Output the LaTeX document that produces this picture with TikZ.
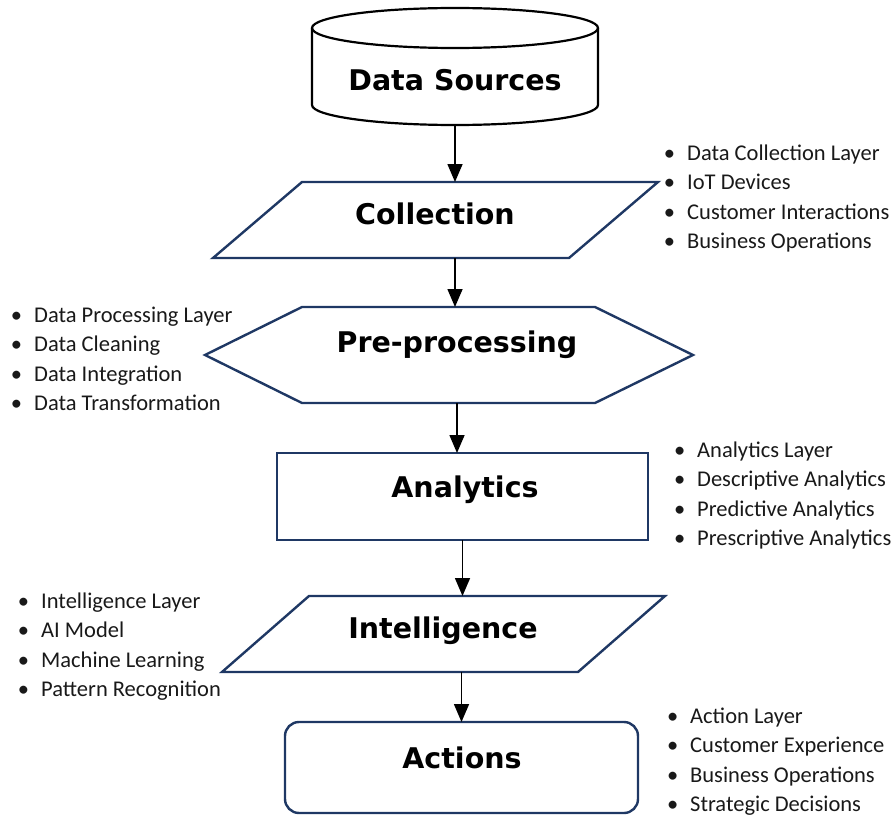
\documentclass[tikz,border=0pt]{standalone}
\usepackage{fontspec}
\newfontfamily\notefont{Carlito}
\newfontfamily\stagefont{DejaVu Sans}
\usetikzlibrary{calc,arrows.meta}
\definecolor{navy}{RGB}{31,56,100}
\definecolor{ink}{RGB}{25,25,25}
\newcommand{\itm}{\llap{\textbullet\hspace{12pt}}}
\newcommand{\notelist}[4]{%
  \foreach \txt [count=\i from 0] in {#4}
    \node[note] (#1-\i) at (#2,#3+29.5*\i) {\itm\txt};}

\begin{document}
\begin{tikzpicture}[x=1pt,y=-1pt,
  box/.style={inner sep=0pt,outer sep=0pt},
  stage/.style={draw=navy,line width=2.4pt},
  title/.style={font=\stagefont\bfseries\fontsize{28.5}{34}\selectfont,text height=20.8pt,text depth=0pt,inner sep=0pt},
  note/.style={font=\notefont\fontsize{22.5}{27}\selectfont,text=ink,anchor=base west,inner sep=0pt},
  flow/.style={-{Triangle[length=18pt,width=15pt]},line width=1.6pt}]
  \useasboundingbox (0,0) rectangle (895,816);

  % data sources
  \node[box,minimum width=286,minimum height=117] (src) at (455,66.5) {};
  \draw[line width=2.2pt] ($(src.north west)+(0,20)$) -- ($(src.south west)+(0,-20)$)
    arc[start angle=180,end angle=360,x radius=143pt,y radius=20pt] -- ($(src.north east)+(0,20)$);
  \draw[line width=2.2pt] ($(src.north)+(0,20)$) ellipse[x radius=143pt,y radius=20pt];
  \node[title] (srct) at (455,80) {Data Sources};

  % collection
  \node[box,minimum width=445,minimum height=76] (coll) at (435.5,220) {};
  \draw[stage] ($(coll.north west)+(89,0)$) -- (coll.north east) -- ($(coll.south east)+(-89,0)$) -- (coll.south west) -- cycle;
  \node[title] (collt) at (435,214) {Collection};

  % pre-processing
  \node[box,minimum width=488,minimum height=96] (pre) at (449,355) {};
  \draw[stage] ($(pre.north west)+(97,0)$) -- ($(pre.north east)+(-98,0)$) -- (pre.east)
    -- ($(pre.south east)+(-98,0)$) -- ($(pre.south west)+(97,0)$) -- (pre.west) -- cycle;
  \node[title] (pret) at (457,342) {Pre-processing};

  % analytics
  \node[box,stage,minimum width=371,minimum height=87] (ana) at (462.5,496.5) {};
  \node[title] (anat) at (465,487) {Analytics};

  % intelligence
  \node[box,minimum width=443,minimum height=76] (int) at (443.5,634) {};
  \draw[stage] ($(int.north west)+(87,0)$) -- (int.north east) -- ($(int.south east)+(-87,0)$) -- (int.south west) -- cycle;
  \node[title] (intt) at (443,628) {Intelligence};

  % actions
  \node[box,stage,rounded corners=14pt,minimum width=353,minimum height=91] (act) at (461.5,767.5) {};
  \node[title] (actt) at (462,758) {Actions};

  \draw[flow] (src.south) -- (src.south |- coll.north);
  \draw[flow] (src.south |- coll.south) -- (src.south |- pre.north);
  \draw[flow] (pret |- pre.south) -- (pret |- ana.north);
  \draw[flow] (ana.south) -- (ana.south |- int.north);
  \draw[flow] (act.north |- int.south) -- (act.north);

  % notes
  \notelist{cn}{687}{160}{Data Collection Layer,IoT Devices,Customer Interactions,Business Operations}
  \notelist{pn}{34}{322}{Data Processing Layer,Data Cleaning,Data Integration,Data Transformation}
  \notelist{an}{697}{457}{Analytics Layer,Descriptive Analytics,Predictive Analytics,Prescriptive Analytics}
  \notelist{in}{41}{608}{Intelligence Layer,AI Model,Machine Learning,Pattern Recognition}
  \notelist{xn}{690}{723}{Action Layer,Customer Experience,Business Operations,Strategic Decisions}
\end{tikzpicture}
\end{document}
